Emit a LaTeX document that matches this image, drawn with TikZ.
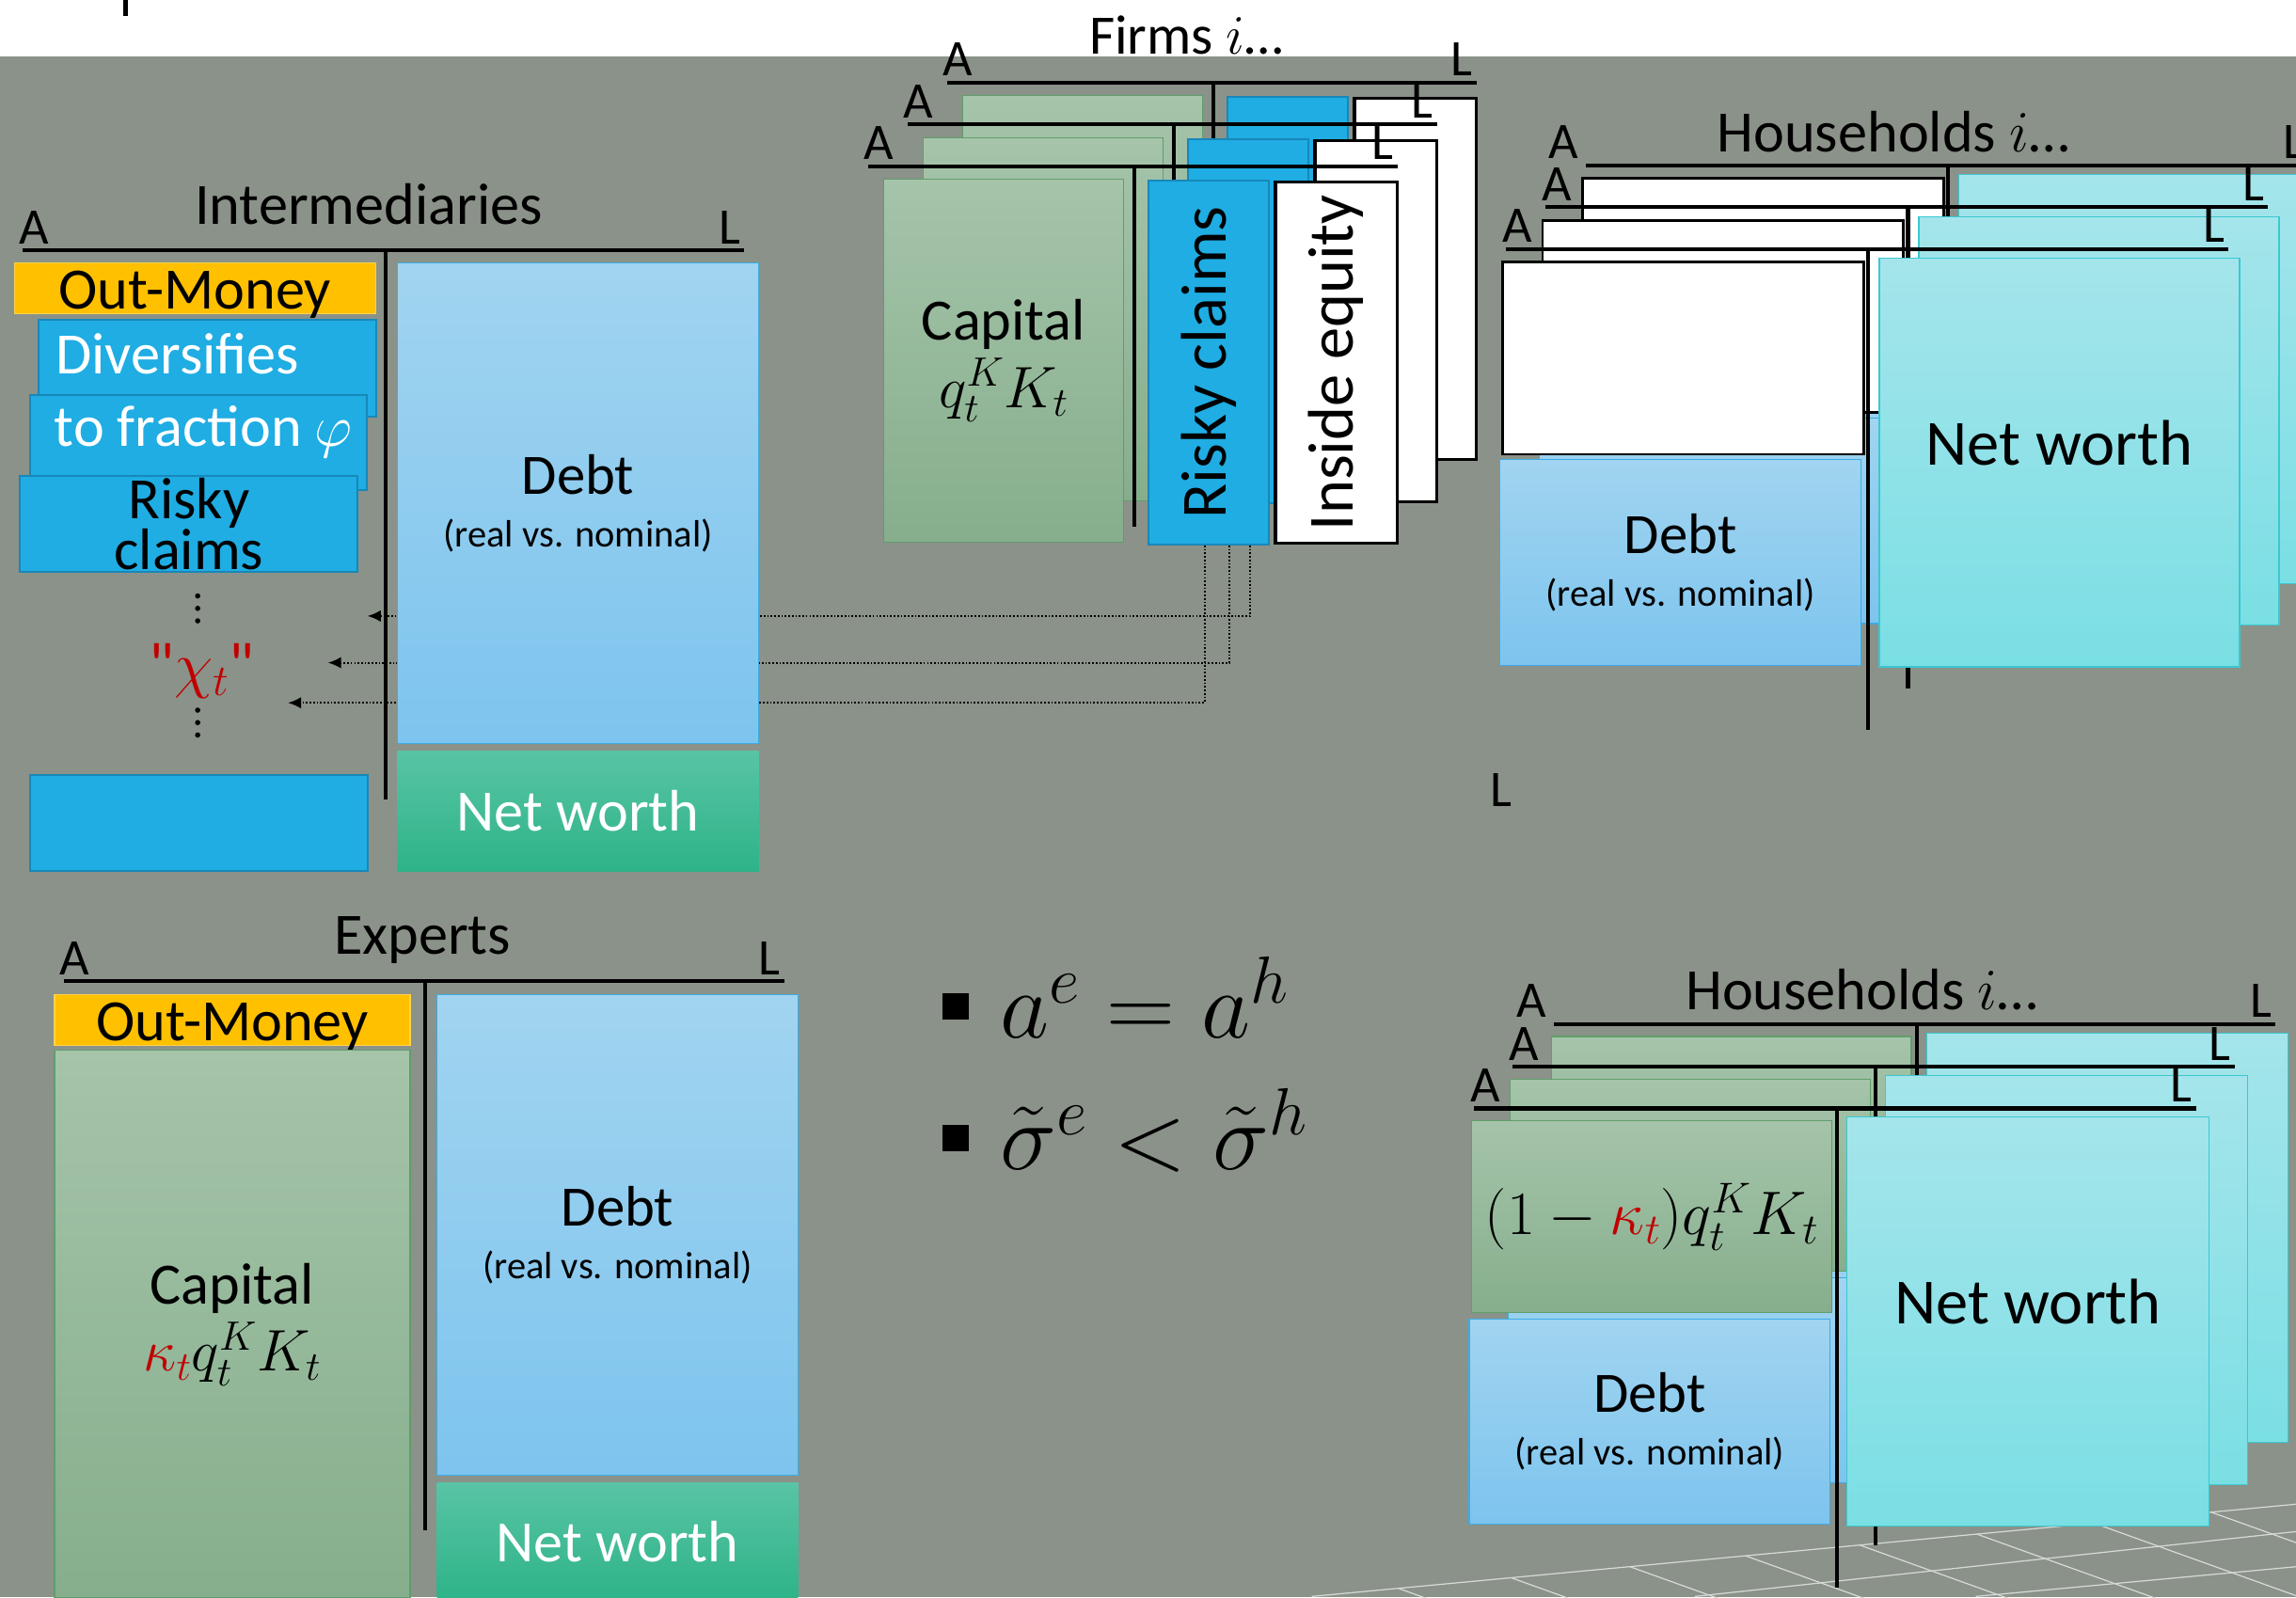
\RequirePackage{fix-cm}
\documentclass[tikz,border=0pt]{standalone}
\usepackage{fontspec}
\setmainfont{Carlito}
\usetikzlibrary{arrows.meta}
\definecolor{bggray}{RGB}{139,146,137}
\definecolor{ombg}{RGB}{255,192,0}
\definecolor{riskblue}{RGB}{31,173,227}
\definecolor{riskedge}{RGB}{24,135,185}
\definecolor{debttop}{RGB}{161,212,240}
\definecolor{debtbot}{RGB}{125,196,238}
\definecolor{debtedge}{RGB}{60,172,228}
\definecolor{captop}{RGB}{165,196,170}
\definecolor{capbot}{RGB}{134,174,140}
\definecolor{capedge}{RGB}{96,158,108}
\definecolor{nwtop}{RGB}{88,196,165}
\definecolor{nwbot}{RGB}{46,179,136}
\definecolor{cyantop}{RGB}{164,229,235}
\definecolor{cyanbot}{RGB}{122,223,228}
\definecolor{cyanedge}{RGB}{58,200,210}
\definecolor{kred}{RGB}{192,0,0}
\newcommand{\fsz}[2]{\fontsize{#1}{#2}\selectfont}
\begin{document}
\begin{tikzpicture}[x=1pt,y=-1pt,font=\fsz{40}{46},
  box/.style={anchor=north west,inner sep=0pt,align=center,line width=0.8pt},
  sz/.style 2 args={minimum width=#1,minimum height=#2},
  omoney/.style={box,fill=ombg,draw=ombg!70!white,text height=31,text depth=3},
  riskbox/.style={box,fill=riskblue,draw=riskedge,line width=1.3pt},
  debtbox/.style={box,top color=debttop,bottom color=debtbot,draw=debtedge,font=\fsz{39}{36}},
  capbox/.style={box,top color=captop,bottom color=capbot,draw=capedge},
  nwbox/.style={box,top color=nwtop,bottom color=nwbot,draw=none,text=white},
  cyanbox/.style={box,top color=cyantop,bottom color=cyanbot,draw=cyanedge,font=\fsz{44}{50},text depth=27},
  wbox/.style={box,fill=white,draw=black,line width=2pt},
  tline/.style={line width=2.6pt},
  albl/.style={font=\fsz{35}{40},inner sep=0pt,anchor=base},
  ttl/.style={font=\fsz{40}{46},inner sep=0pt,anchor=base},
  sqbul/.style={fill=black,inner sep=0pt,minimum size=17.5},
  eqn/.style={anchor=base west,inner sep=0pt,font=\fsz{65}{72}},
  dotarrow/.style={dash pattern=on 1.1pt off 1.3pt,line width=1.3pt,-{Latex[length=9pt,width=8pt]}},
  floor/.style={line width=0.8pt,draw=white!65!bggray}]
\useasboundingbox (0,0) rectangle (1568,1091);
\clip (0,0) rectangle (1568,1091);
\fill[white] (0,0) rectangle (1568,1091);
\fill[bggray] (0,38.5) rectangle (1568,1091);
\draw[line width=3.5pt] (85.7,0) -- (85.7,10.7);
\foreach \x in {955,1032,1113,1192,1270,1350,1430,1510} \draw[floor] (\x,{1090.3-(\x-895.8)*0.09375}) -- ++(220,79);
\draw[floor] (895.8,1090.3) -- (1568,1027.3) (1157.5,1090.3) -- (1568,1046) (1349.3,1090.3) -- (1568,1070);

\foreach \dx/\dy/\k/\ftxt/\rtxt/\itxt in {54/-57/3/{}/{}/{},27/-28.5/2/{}/{}/{},0/0/1/{Capital\\$q_t^K K_t$}/{Risky claims}/{Inside equity}}{
  \begin{scope}[shift={(\dx,\dy)}]
    \node[capbox,sz={164}{248}] (fcap\k) at (603,122) {\ftxt};
    \node[riskbox,sz={82.1}{248.5}] (frc\k) at (783.7,122.7) {\rotatebox{90}{\fsz{44}{50}\rtxt}};
    \node[wbox,sz={83}{246.6}] (fie\k) at (870,123.4) {\rotatebox{90}{\fsz{44}{50}\itxt}};
    \draw[tline] (593,113.6) -- (954.6,113.6) (774.6,113.6) -- (774.6,360);
    \node[albl] (fa\k) at (600,109) {A};
    \node[albl] (fl\k) at (944,109) {L};
  \end{scope}}
\node[ttl,font=\fsz{38}{44}] (ftitle) at (810,36.9) {Firms $i$…};

\coordinate (tip1) at (251,420.7);
\coordinate (tip2) at (224,452.6);
\coordinate (tip3) at (196.7,480);
\draw[dotarrow] ([xshift=28.25pt]frc1.south) |- (tip1);
\draw[dotarrow] ([xshift=14.25pt]frc1.south) |- (tip2);
\draw[dotarrow] ([xshift=-2.75pt]frc1.south) |- (tip3);

\node[ttl] (ititle) at (251.7,153) {Intermediaries};
\node[omoney,sz={246.3}{34.6}] (iom) at (9.7,179) {Out-Money};
\node[riskbox,sz={230.6}{66.2},text=white,inner xsep=0pt,text depth=20] (idiv) at (25.4,217.8) {\makebox[230.6pt][l]{\hspace*{12pt}Diversifies}};
\node[riskbox,sz={230}{65},text=white,inner xsep=0pt,text depth=22] (ifrac) at (20,269) {\makebox[230pt][l]{\hspace*{16.5pt}to fraction $\varphi$}};
\node[riskbox,sz={230.7}{65.5},font=\fsz{40}{35}] (irc) at (13,324.5) {Risky\\claims};
\foreach \y in {407,415.5,424,485,493.5,502} \fill (135,\y) circle (1.8pt);
\node[text=kred,inner sep=0pt,font=\fsz{43}{48}] (ichi) at (137.6,458) {\textquotedbl$\chi_t$\textquotedbl};
\node[riskbox,sz={230.7}{65.5}] (iblank) at (20,528.5) {};
\node[debtbox,sz={246.7}{328.5}] (idebt) at (271,179) {Debt\\{\fsz{26}{30}(real vs. nominal)}};
\node[nwbox,sz={246.7}{82.2}] (inw) at (271,512.6) {Net worth};
\draw[tline] (15.7,170.6) -- (508,170.6) (263.5,170.6) -- (263.5,546);
\node[albl] (ia) at (23.6,166.5) {A};
\node[albl] (il) at (498.7,166.5) {L};

\foreach \dx/\dy/\ax/\k/\dtxt/\ntxt in {54.5/-57/-15/3/{}/{},27/-28.5/8/2/{}/{},0/0/8/1/{Debt\\{\fsz{26}{30}(real vs. nominal)}}/{Net worth}}{
  \begin{scope}[shift={(\dx,\dy)}]
    \node[wbox,line width=1.8pt,sz={246.5}{131.4}] (hw\k) at (1025.5,178) {};
    \node[debtbox,sz={246.5}{140.5}] (hd\k) at (1024,313.5) {\dtxt};
    \node[cyanbox,sz={246}{279}] (hn\k) at (1283,176) {\ntxt};
    \draw[tline] (1028.5,170) -- (1521.5,170) (1276,170) -- (1276,498.6);
    \node[albl] (ha\k) at ({1028.5+(\ax)},165.5) {A};
    \node[albl] (hl\k) at (1512,165.5) {L};
  \end{scope}}
\node[ttl] (htitle) at (1293,104) {Households $i$…};
\node[albl] (hl0) at (1025,551) {L};

\node[ttl] (etitle) at (288.5,651.6) {Experts};
\node[omoney,sz={242.8}{34.6}] (eom) at (36.8,679) {Out-Money};
\node[capbox,sz={242.8}{374}] (ecap) at (36.8,717) {Capital\\${\color{kred}\kappa_t}q_t^K K_t$};
\node[debtbox,sz={246.6}{328}] (edebt) at (298,679) {Debt\\{\fsz{26}{30}(real vs. nominal)}};
\node[nwbox,sz={246.6}{80}] (enw) at (298,1012.5) {Net worth};
\draw[tline] (43.5,670) -- (535.8,670) (290.5,670) -- (290.5,1045);
\node[albl] (ea) at (51,665.5) {A};
\node[albl] (el) at (525.5,665.5) {L};

\node[sqbul] (bul1) at (652.6,687.3) {};
\node[sqbul] (bul2) at (652.6,777.2) {};
\node[eqn] (aeq) at (683,708.7) {$a^e = a^h$};
\node[eqn] (sig) at (683,798.5) {$\tilde\sigma^e < \tilde\sigma^h$};

\foreach \dx/\dy/\ax/\k/\gtxt/\dtxt/\ntxt in {54.3/-57.5/-15/3/{}/{}/{},26.3/-28.3/8/2/{}/{}/{},0/0/8/1/{$(1-{\color{kred}\kappa_t})q_t^K K_t$}/{Debt\\{\fsz{26}{30}(real vs. nominal)}}/{Net worth}}{
  \begin{scope}[shift={(\dx,\dy)}]
    \node[capbox,sz={245.9}{131},font=\fsz{42}{48}] (bg\k) at (1004.7,765) {\gtxt};
    \node[debtbox,sz={246.5}{140}] (bd\k) at (1003,900.6) {\dtxt};
    \node[cyanbox,sz={247}{279.5}] (bn\k) at (1261,762.5) {\ntxt};
    \draw[tline] (1006.7,757) -- (1499.7,757) (1254.6,757) -- (1254.6,1084);
    \node[albl] (ba\k) at ({1006.7+(\ax)},752.5) {A};
    \node[albl] (bl\k) at (1489.6,752.5) {L};
  \end{scope}}
\node[ttl] (btitle) at (1271.5,689.5) {Households $i$…};
\end{tikzpicture}
\end{document}
